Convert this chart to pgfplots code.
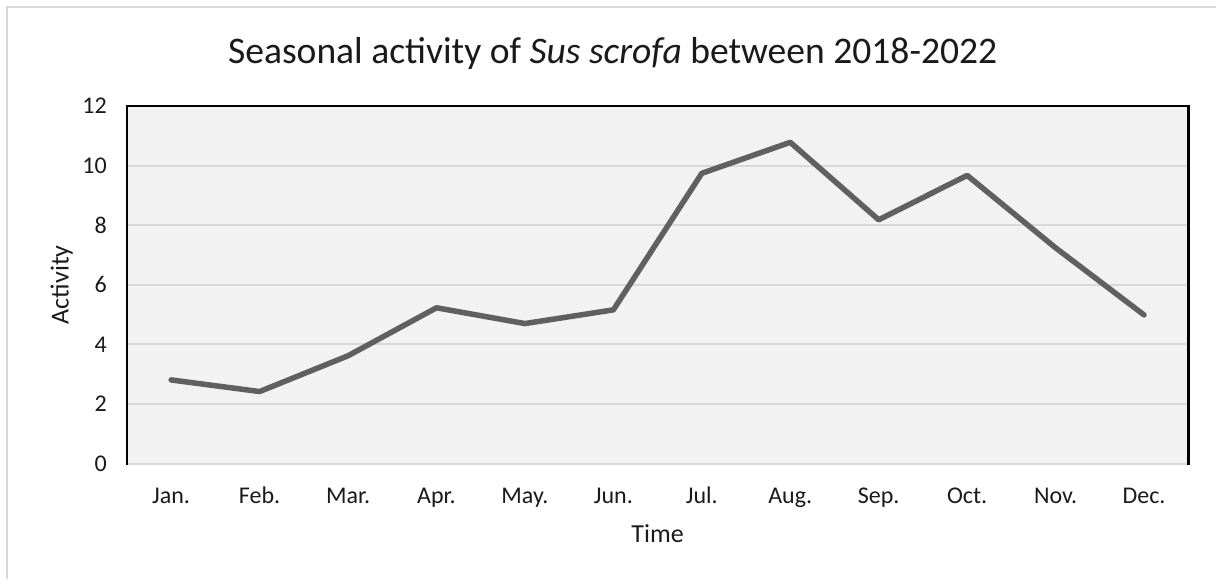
\documentclass[border=0pt]{standalone}
\usepackage{pgfplots}
\pgfplotsset{compat=1.18}
\usepackage{fontspec}
\setmainfont{Carlito}
\definecolor{linegray}{HTML}{606060}
\definecolor{gridgray}{HTML}{D9D9D9}
\definecolor{plotbg}{HTML}{F2F2F2}
\definecolor{bordergray}{HTML}{D9D9D9}
\definecolor{textcol}{HTML}{1A1A1A}
\begin{document}
\begin{tikzpicture}
\path[fill=white] (0pt,0pt) rectangle (1217pt,579pt);
\draw[color=bordergray, line width=1.5pt] (7pt,0pt) -- (7pt,572pt) -- (1217pt,572pt);
\node[anchor=base, text=textcol, font=\fontsize{37.6}{41}\selectfont] at (613pt,515.7pt) {Seasonal activity of \textit{Sus scrofa} between 2018-2022};
\begin{axis}[
  at={(127pt,115pt)}, anchor=south west,
  scale only axis, width=1062pt, height=358pt,
  xmin=-0.5, xmax=11.5, ymin=0, ymax=12,
  xtick={0,1,2,3,4,5,6,7,8,9,10,11},
  xticklabels={Jan.,Feb.,Mar.,Apr.,May.,Jun.,Jul.,Aug.,Sep.,Oct.,Nov.,Dec.},
  ytick={0,2,4,6,8,10,12},
  ymajorgrids,
  grid style={color=gridgray, line width=2pt},
  axis line style={draw=none},
  major tick length=0pt,
  axis background/.style={fill=plotbg},
  /pgf/number format/assume math mode=true,
  tick label style={font=\fontsize{24}{28}\selectfont, text=textcol},
  yticklabel style={inner sep=0pt, anchor=east, xshift=-20pt},
  xticklabel style={inner sep=0pt, anchor=north, text height=17pt, text depth=5pt, yshift=-23pt},
  xlabel={Time},
  xlabel style={at={(rel axis cs:0.5,0)}, anchor=base, yshift=-78.7pt, font=\fontsize{26}{30}\selectfont, text=textcol},
  ylabel={Activity},
  ylabel style={at={(rel axis cs:0,0.5)}, anchor=base, yshift=58.4pt, font=\fontsize{26}{30}\selectfont, text=textcol},
  clip=false,
]
\addplot[color=linegray, line width=5.5pt, line join=round, line cap=round, mark=none] coordinates {
  (0,2.81) (1,2.42) (2,3.62) (3,5.23) (4,4.70) (5,5.16)
  (6,9.74) (7,10.78) (8,8.18) (9,9.67) (10,7.24) (11,4.99)
};
\draw[black, line width=2.5pt, line cap=rect] (rel axis cs:0,0) -- (rel axis cs:0,1) -- (rel axis cs:1,1) -- (rel axis cs:1,0);
\end{axis}
\end{tikzpicture}
\end{document}
